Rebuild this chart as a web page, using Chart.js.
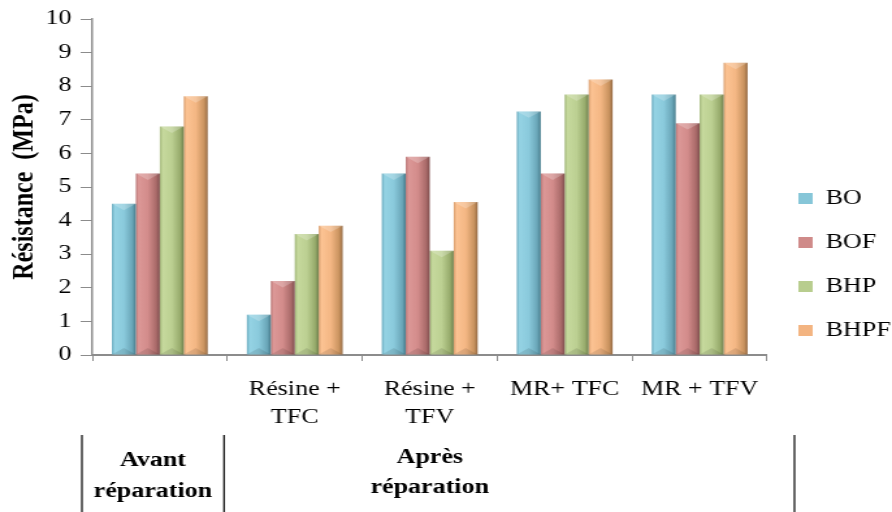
<!DOCTYPE html>
<html>
<head>
<meta charset="utf-8">
<script src="https://cdn.jsdelivr.net/npm/chart.js@4"></script>
<style>
  html, body { margin: 0; padding: 0; background: #fff; overflow: hidden; }
  /* the reference is stretched horizontally, so the chart is drawn narrower and scaled */
  #wrap { width: 686px; height: 512px; transform: scaleX(1.3003); transform-origin: 0 0; }
</style>
</head>
<body>
<div id="wrap"><canvas id="chart"></canvas></div>
<script>
const CATEGORIES = ['', ['Résine +', 'TFC'], ['Résine +', 'TFV'], 'MR+ TFC', 'MR + TFV'];
const SERIES = ['BO', 'BOF', 'BHP', 'BHPF'];
const BO = [4.5, 1.2, 5.4, 7.25, 7.75];
const BOF = [5.4, 2.2, 5.9, 5.4, 6.9];
const BHP = [6.8, 3.6, 3.1, 7.75, 7.75];
const BHPF = [7.7, 3.85, 4.55, 8.2, 8.7];
const Y_TITLE = 'Résistance  (MPa)';
const GROUPS = [['Avant', 'réparation'], ['Après', 'réparation']];

const FONT = "'Liberation Serif', 'Times New Roman', serif";

// mid colour + bevel shades (left edge, light, mid, dark, right edge)
const COLORS = [
  { base: '#86c6d8', shades: ['#68a9bd', '#95d3e4', '#8acadc', '#6aa6b8', '#477c8c'] },
  { base: '#cf8a89', shades: ['#b87474', '#dc9897', '#d38c8b', '#a96a69', '#7f4e4e'] },
  { base: '#b8cd8e', shades: ['#9eb476', '#c6d99d', '#bcd092', '#97ab6c', '#6e7f4c'] },
  { base: '#f3b481', shades: ['#d79c6c', '#fcc393', '#f4b784', '#c9935f', '#946a44'] },
];

// paints each bar with a horizontal gradient so it looks bevelled
const bevelPlugin = {
  id: 'bevel',
  beforeDatasetsDraw(chart) {
    const ctx = chart.ctx;
    chart.data.datasets.forEach((ds, i) => {
      const shades = COLORS[i].shades;
      chart.getDatasetMeta(i).data.forEach((el) => {
        const w = el.width;
        const g = ctx.createLinearGradient(el.x - w / 2, 0, el.x + w / 2, 0);
        g.addColorStop(0, shades[0]);
        g.addColorStop(0.12, shades[1]);
        g.addColorStop(0.5, shades[2]);
        g.addColorStop(0.85, shades[3]);
        g.addColorStop(1, shades[4]);
        el.options = Object.assign({}, el.options, { backgroundColor: g });
      });
    });
  },
  // small chamfers at top and bottom of every bar
  afterDatasetsDraw(chart) {
    const ctx = chart.ctx;
    ctx.save();
    chart.data.datasets.forEach((ds, i) => {
      chart.getDatasetMeta(i).data.forEach((el) => {
        const l = el.x - el.width / 2;
        const r = el.x + el.width / 2;
        const d = Math.min(el.width * 0.35, (el.base - el.y) / 2);
        ctx.fillStyle = 'rgba(255,255,255,0.22)';
        ctx.beginPath();
        ctx.moveTo(l, el.y);
        ctx.lineTo(r, el.y);
        ctx.lineTo(el.x, el.y + d);
        ctx.closePath();
        ctx.fill();
        ctx.fillStyle = 'rgba(0,0,0,0.10)';
        ctx.beginPath();
        ctx.moveTo(l, el.base);
        ctx.lineTo(r, el.base);
        ctx.lineTo(el.x, el.base - d);
        ctx.closePath();
        ctx.fill();
      });
    });
    ctx.restore();
  },
};

// "Avant / Après réparation" band under the category labels
const groupPlugin = {
  id: 'groups',
  afterDraw(chart) {
    const ctx = chart.ctx;
    const x = chart.scales.x;
    const lines = [x.getPixelForValue(-0.5) - 8, x.getPixelForValue(0.5) - 2.5, x.getPixelForValue(4.5) + 21];
    ctx.save();
    ctx.strokeStyle = '#000';
    ctx.lineWidth = 1.2;
    lines.forEach((lx) => {
      ctx.beginPath();
      ctx.moveTo(lx, 435);
      ctx.lineTo(lx, 512);
      ctx.stroke();
    });
    ctx.fillStyle = '#000';
    ctx.font = 'bold 20px ' + FONT;
    ctx.textAlign = 'center';
    ctx.textBaseline = 'middle';
    const cx = [(lines[0] + lines[1]) / 2, x.getPixelForValue(2)];
    const ys = [[461, 492], [458, 488]];
    GROUPS.forEach((g, i) => {
      g.forEach((t, j) => ctx.fillText(t, cx[i], ys[i][j]));
    });
    ctx.restore();
  },
};

const datasets = [BO, BOF, BHP, BHPF].map((values, i) => ({
  label: SERIES[i],
  data: values,
  backgroundColor: COLORS[i].base,
  borderWidth: 0,
  categoryPercentage: 0.71,
  barPercentage: 1,
}));

new Chart(document.getElementById('chart'), {
  type: 'bar',
  data: { labels: CATEGORIES, datasets: datasets },
  plugins: [bevelPlugin, groupPlugin],
  options: {
    responsive: true,
    maintainAspectRatio: false,
    animation: false,
    devicePixelRatio: 1,
    layout: { padding: { left: 0, top: 17, right: -9, bottom: 0 } },
    plugins: {
      legend: {
        position: 'right',
        align: 'center',
        labels: {
          color: '#000',
          font: { family: FONT, size: 20 },
          boxWidth: 11,
          boxHeight: 11,
          padding: 24,
        },
      },
      tooltip: { enabled: false },
    },
    scales: {
      x: {
        grid: { display: true, drawOnChartArea: false, drawTicks: true, tickLength: 6, color: '#8c8c8c', offset: true },
        border: { color: '#8c8c8c', width: 2 },
        ticks: {
          color: '#000',
          font: { family: FONT, size: 20, lineHeight: 1.4 },
          padding: 15,
          maxRotation: 0,
          autoSkip: false,
        },
        afterFit(scale) { scale.height = 157; },
      },
      y: {
        min: 0,
        max: 10,
        grid: { display: true, drawOnChartArea: false, drawTicks: true, tickLength: 9, color: '#8c8c8c' },
        border: { color: '#8c8c8c', width: 1.5 },
        ticks: {
          stepSize: 1,
          color: '#000',
          font: { family: FONT, size: 20 },
          padding: 7,
        },
        title: {
          display: true,
          text: Y_TITLE,
          color: '#000',
          font: { family: FONT, size: 24, weight: 'bold' },
          padding: { top: 4, bottom: 0 },
        },
        afterFit(scale) { scale.width = 71; },
      },
    },
  },
});
</script>
</body>
</html>
